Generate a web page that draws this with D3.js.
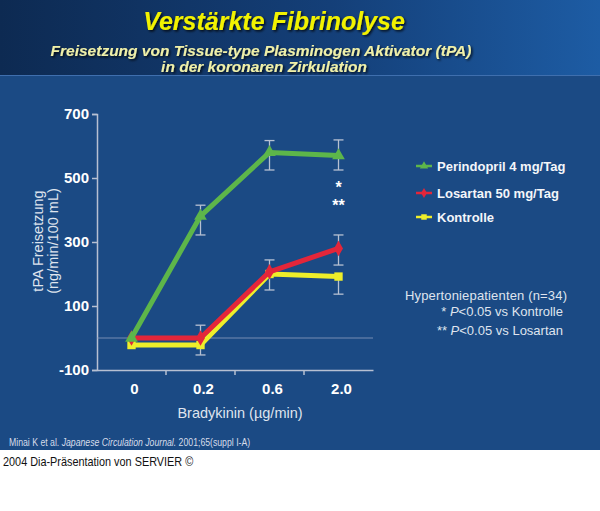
<!DOCTYPE html>
<html>
<head>
<meta charset="utf-8">
<script src="https://cdn.jsdelivr.net/npm/d3@7"></script>
<style>
  body { margin: 0; background: #fff; }
  svg { display: block; font-family: "Liberation Sans", Arial, sans-serif; }
</style>
</head>
<body>
<script>
// data
let doses = ["0", "0.2", "0.6", "2.0"];
let yTicks = [-100, 100, 300, 500, 700];

let perindopril = [0, 381, 580, 570];
let losartan = [0, 0, 207, 280];
let kontrolle = [-22, -22, 200, 192];

// error bars (magnitudes), null = not drawn
let perindoprilUp = [null, 34, 37, 49];
let perindoprilDown = [null, 59, 55, 45];
let losartanUp = [null, 40, 37, 42];
let losartanDown = [null, null, null, 52];
let kontrolleUp = [null, null, null, null];
let kontrolleDown = [null, 31, 50, 55];

let seriesNames = ["Perindopril 4 mg/Tag", "Losartan 50 mg/Tag", "Kontrolle"];
let seriesColors = ["#5db64a", "#e3263a", "#eeee2a"];

let W = 600, H = 511;
let svg = d3.select("body").append("svg").attr("width", W).attr("height", H);

let defs = svg.append("defs");
let grad = defs.append("linearGradient").attr("id", "banner").attr("x1", "0").attr("x2", "1").attr("y1", "0").attr("y2", "0");
grad.append("stop").attr("offset", "0").attr("stop-color", "#0d2a52");
grad.append("stop").attr("offset", "0.55").attr("stop-color", "#143f78");
grad.append("stop").attr("offset", "1").attr("stop-color", "#1d5ca4");

let shadow = defs.append("filter").attr("id", "shadow").attr("x", "-5%").attr("y", "-20%").attr("width", "110%").attr("height", "140%");
shadow.append("feDropShadow").attr("dx", 1.5).attr("dy", 1.5).attr("stdDeviation", 0.8).attr("flood-color", "#000").attr("flood-opacity", 0.8);

// background
svg.append("rect").attr("x", 0).attr("y", 0).attr("width", W).attr("height", 450).attr("fill", "#1b4a84");
svg.append("rect").attr("x", 0).attr("y", 0).attr("width", W).attr("height", 75).attr("fill", "url(#banner)");
svg.append("line").attr("x1", 0).attr("x2", W).attr("y1", 75.5).attr("y2", 75.5).attr("stroke", "#3f6fae").attr("stroke-width", 1);

// titles
svg.append("text").attr("x", 274).attr("y", 30).attr("text-anchor", "middle")
    .attr("font-size", 25).attr("font-weight", "bold").attr("font-style", "italic")
    .attr("fill", "#f2f200").attr("filter", "url(#shadow)")
    .text("Verstärkte Fibrinolyse");
svg.append("text").attr("x", 261).attr("y", 56).attr("text-anchor", "middle")
    .attr("font-size", 15.5).attr("font-weight", "bold").attr("font-style", "italic")
    .attr("fill", "#f0f0a8").attr("filter", "url(#shadow)")
    .text("Freisetzung von Tissue-type Plasminogen Aktivator (tPA)");
svg.append("text").attr("x", 264).attr("y", 72).attr("text-anchor", "middle")
    .attr("font-size", 15.5).attr("font-weight", "bold").attr("font-style", "italic")
    .attr("fill", "#f0f0a8").attr("filter", "url(#shadow)")
    .text("in der koronaren Zirkulation");

// scales
let x = d3.scaleBand().domain(doses).range([97, 373]);
let y = d3.scaleLinear().domain([-100, 700]).range([370, 114]);
let cx = d => x(d) + x.bandwidth() / 2;

let axisColor = "#b7c0d2";

// y axis
let yAxis = svg.append("g").attr("transform", "translate(97,0)")
    .call(d3.axisLeft(y).tickValues(yTicks).tickFormat(d => String(d)).tickSize(5).tickPadding(3));
yAxis.select(".domain").attr("stroke", axisColor).attr("stroke-width", 1.5);
yAxis.selectAll(".tick line").attr("stroke", axisColor).attr("stroke-width", 1.5);
yAxis.selectAll(".tick text").attr("fill", "#fff").attr("font-size", 15).attr("font-weight", "bold")
    .attr("font-family", "Liberation Sans, Arial, sans-serif");

// x axis: ticks between bands
let xAxis = svg.append("g").attr("transform", "translate(0,370)")
    .call(d3.axisBottom(x).tickSize(0).tickPadding(13));
xAxis.select(".domain").attr("stroke", axisColor).attr("stroke-width", 1.5);
xAxis.selectAll(".tick text").attr("fill", "#fff").attr("font-size", 15).attr("font-weight", "bold")
    .attr("font-family", "Liberation Sans, Arial, sans-serif").attr("dx", 3);
xAxis.selectAll(".sep").data(doses.slice(1)).enter().append("line")
    .attr("class", "sep")
    .attr("x1", d => x(d)).attr("x2", d => x(d))
    .attr("y1", 0).attr("y2", 5)
    .attr("stroke", axisColor).attr("stroke-width", 1.5);

// zero reference line
svg.append("line").attr("x1", 97).attr("x2", 373).attr("y1", y(0)).attr("y2", y(0))
    .attr("stroke", "#8ea0c0").attr("stroke-width", 0.8);

// axis titles
svg.append("text").attr("x", 240).attr("y", 418).attr("text-anchor", "middle")
    .attr("font-size", 14.5).attr("fill", "#dfe4ee").text("Bradykinin (µg/min)");
let yTitle = svg.append("g").attr("transform", "translate(0,241) rotate(-90)");
yTitle.append("text").attr("x", 0).attr("y", 43).attr("text-anchor", "middle")
    .attr("font-size", 14.5).attr("fill", "#dfe4ee").text("tPA Freisetzung");
yTitle.append("text").attr("x", 0).attr("y", 58).attr("text-anchor", "middle")
    .attr("font-size", 14.5).attr("fill", "#dfe4ee").text("(ng/min/100 mL)");

// error bars
let errSets = [
    [perindopril, perindoprilUp, perindoprilDown],
    [losartan, losartanUp, losartanDown],
    [kontrolle, kontrolleUp, kontrolleDown]
];
let errG = svg.append("g");
errSets.forEach(function(s) {
    let vals = s[0], up = s[1], down = s[2];
    doses.forEach(function(d, i) {
        [up[i] == null ? null : vals[i] + up[i], down[i] == null ? null : vals[i] - down[i]].forEach(function(e) {
            if (e == null) return;
            errG.append("line").attr("x1", cx(d)).attr("x2", cx(d)).attr("y1", y(vals[i])).attr("y2", y(e))
                .attr("stroke", axisColor).attr("stroke-width", 1.3);
            errG.append("line").attr("x1", cx(d) - 5).attr("x2", cx(d) + 5).attr("y1", y(e)).attr("y2", y(e))
                .attr("stroke", axisColor).attr("stroke-width", 1.3);
        });
    });
});

// lines, drawn so that green is on top as in the slide
let allSeries = [kontrolle, losartan, perindopril];
let allColors = [seriesColors[2], seriesColors[1], seriesColors[0]];
let allSymbols = [d3.symbolSquare, d3.symbolDiamond, d3.symbolTriangle];
let line = d3.line().x((v, i) => cx(doses[i])).y(v => y(v));
allSeries.forEach(function(vals, k) {
    svg.append("path").attr("d", line(vals)).attr("fill", "none")
        .attr("stroke", allColors[k]).attr("stroke-width", 5).attr("stroke-linejoin", "round");
    svg.selectAll(null).data(vals).enter().append("path")
        .attr("transform", (v, i) => "translate(" + cx(doses[i]) + "," + y(v) + ")")
        .attr("d", d3.symbol().type(allSymbols[k]).size(70))
        .attr("fill", allColors[k]);
});

// significance marks
svg.append("text").attr("x", cx("2.0")).attr("y", 193).attr("text-anchor", "middle")
    .attr("font-size", 16).attr("font-weight", "bold").attr("fill", "#fff").text("*");
svg.append("text").attr("x", cx("2.0")).attr("y", 211).attr("text-anchor", "middle")
    .attr("font-size", 16).attr("font-weight", "bold").attr("fill", "#fff").text("**");

// legend
let legSymbols = [d3.symbolTriangle, d3.symbolDiamond, d3.symbolSquare];
let legY = [166, 193, 217];
let leg = svg.append("g");
seriesNames.forEach(function(name, i) {
    let g = leg.append("g").attr("transform", "translate(0," + legY[i] + ")");
    g.append("line").attr("x1", 416).attr("x2", 432).attr("y1", 0).attr("y2", 0)
        .attr("stroke", seriesColors[i]).attr("stroke-width", 2.5);
    g.append("path").attr("transform", "translate(424,0)")
        .attr("d", d3.symbol().type(legSymbols[i]).size(30)).attr("fill", seriesColors[i]);
    g.append("text").attr("x", 437).attr("y", 5).attr("font-size", 13).attr("font-weight", "bold")
        .attr("fill", "#f4f6fa").text(name);
});

// note
let note = svg.append("g").attr("font-size", 13).attr("fill", "#dfe4ee");
note.append("text").attr("x", 405).attr("y", 300).attr("textLength", 162).text("Hypertoniepatienten (n=34)");
let n1 = note.append("text").attr("x", 563).attr("y", 316).attr("text-anchor", "end");
n1.append("tspan").text("* ");
n1.append("tspan").attr("font-style", "italic").text("P");
n1.append("tspan").text("<0.05 vs Kontrolle");
let n2 = note.append("text").attr("x", 563).attr("y", 335).attr("text-anchor", "end");
n2.append("tspan").text("** ");
n2.append("tspan").attr("font-style", "italic").text("P");
n2.append("tspan").text("<0.05 vs Losartan");

// source, a bit condensed like the slide font
let src = svg.append("text").attr("transform", "translate(9,446) scale(0.83,1)")
    .attr("font-size", 10.5).attr("fill", "#d6dcea");
src.append("tspan").text("Minai K et al. ");
src.append("tspan").attr("font-style", "italic").text("Japanese Circulation Journal.");
src.append("tspan").text(" 2001;65(suppl I-A)");

svg.append("text").attr("transform", "translate(3,466) scale(0.87,1)")
    .attr("font-size", 12.5).attr("fill", "#111")
    .text("2004 Dia-Präsentation von SERVIER ©");
</script>
</body>
</html>
